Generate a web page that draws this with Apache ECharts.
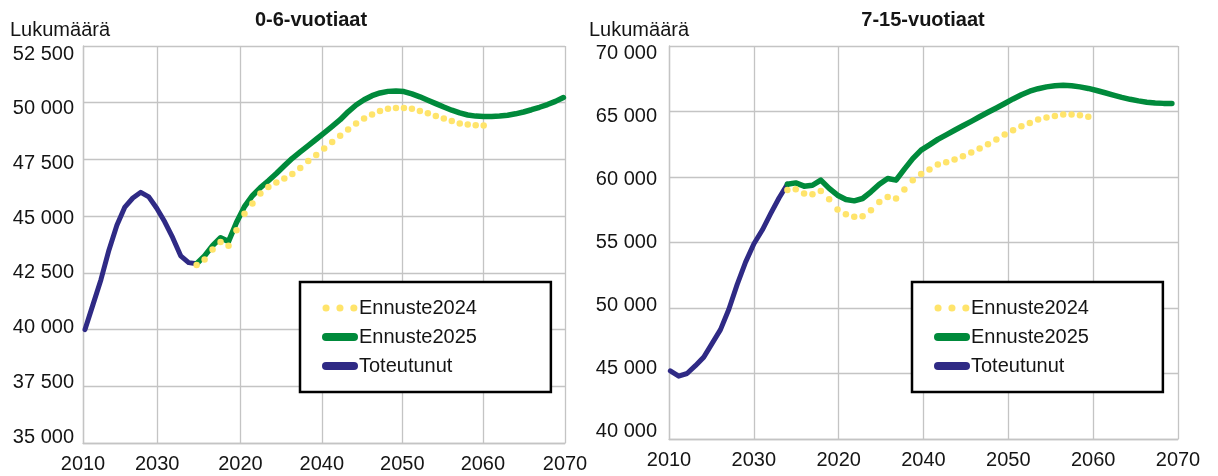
<!DOCTYPE html>
<html>
<head>
<meta charset="utf-8">
<title>Lukumäärä</title>
<script src="https://cdn.jsdelivr.net/npm/echarts@6.0.0/dist/echarts.min.js"></script>
<style>
html, body { margin: 0; padding: 0; background: #fff; }
#main { width: 1218px; height: 476px; }
</style>
</head>
<body>
<div id="main"></div>
<script>
// x-akselin tekstit (kuten alkuperäisessä kuvassa)
const tickLabels = ["2010", "2030", "2020", "2040", "2050", "2060", "2070"];

const yearsActual = [2010, 2011, 2012, 2013, 2014, 2015, 2016, 2017, 2018, 2019, 2020, 2021, 2022, 2023, 2024];
const years2025 = [2024, 2025, 2026, 2027, 2028, 2029, 2030, 2031, 2032, 2033, 2034, 2035, 2036, 2037, 2038, 2039,
  2040, 2041, 2042, 2043, 2044, 2045, 2046, 2047, 2048, 2049, 2050, 2051, 2052, 2053, 2054, 2055,
  2056, 2057, 2058, 2059, 2060, 2061, 2062, 2063, 2064, 2065, 2066, 2067, 2068, 2069, 2070];
const years2024 = [2024, 2025, 2026, 2027, 2028, 2029, 2030, 2031, 2032, 2033, 2034, 2035, 2036, 2037, 2038, 2039,
  2040, 2041, 2042, 2043, 2044, 2045, 2046, 2047, 2048, 2049, 2050, 2051, 2052, 2053, 2054, 2055,
  2056, 2057, 2058, 2059, 2060];

// 0-6-vuotiaat
const actualSmall = [40000, 41100, 42200, 43500, 44600, 45400, 45800, 46050, 45850, 45350, 44750, 44050, 43250, 42950, 42900];
const forecast2025Small = [42900, 43250, 43700, 44050, 43880, 44720, 45420, 45900, 46260, 46560, 46880, 47220, 47550, 47830,
  48110, 48390, 48670, 48960, 49250, 49600, 49900, 50130, 50310, 50430, 50500, 50520, 50490, 50390, 50260,
  50110, 49960, 49810, 49670, 49550, 49460, 49410, 49390, 49390, 49410, 49450, 49510, 49590, 49690, 49800,
  49920, 50060, 50230];
const forecast2024Small = [42850, 43090, 43530, 43860, 43690, 44380, 45110, 45560, 46000, 46290, 46480, 46660, 46860,
  47120, 47430, 47690, 47980, 48270, 48540, 48820, 49080, 49300, 49480, 49630, 49730, 49770, 49770, 49730,
  49640, 49540, 49410, 49300, 49190, 49080, 49040, 49010, 49000];

// 7-15-vuotiaat
const actualSchool = [45200, 44800, 45000, 45600, 46250, 47300, 48350, 49900, 51800, 53500, 54900, 55950, 57200, 58400, 59450];
const forecast2025School = [59450, 59550, 59300, 59370, 59760, 59130, 58610, 58280, 58180, 58360, 58870, 59450, 59880, 59760,
  60600, 61400, 62050, 62450, 62870, 63220, 63570, 63910, 64250, 64600, 64940, 65270, 65610, 65960, 66280,
  66550, 66740, 66880, 66970, 67000, 66970, 66880, 66760, 66600, 66430, 66250, 66080, 65930, 65810, 65710,
  65650, 65620, 65610];
const forecast2024School = [59000, 59070, 58740, 58690, 58940, 58310, 57520, 57160, 56960, 57010, 57470, 58100, 58480,
  58360, 59050, 59760, 60220, 60570, 60960, 61130, 61340, 61590, 61870, 62180, 62500, 62860, 63240, 63570,
  63880, 64130, 64390, 64540, 64660, 64770, 64770, 64720, 64590];

const fontFamily = '"Liberation Sans", Arial, sans-serif';
const gridColor = "#c4c4c4";
const textColor = "#151515";
const yellow = "#ffe46b";
const green = "#008a3b";
const navy = "#2f2a85";

// pystyviivojen paikat (vasen kuva ei ole tasavälinen)
const leftTicks = [2009.75, 2019.05, 2029.5, 2039.7, 2049.8, 2059.9, 2070.2];
const rightTicks = [2009.84, 2019.99, 2030.14, 2040.28, 2050.43, 2060.58, 2070.73];

function pairs(xs, ys) {
  return ys.map((v, i) => [xs[i], v]);
}
function thousands(v) {
  return String(v).replace(/\B(?=(\d{3})+(?!\d))/g, " ");
}
function yearLabel(ticks) {
  return function(v) {
    const i = ticks.findIndex(t => Math.abs(t - v) < 0.01);
    return i >= 0 ? tickLabels[i] : "";
  };
}

const lineStyleGrid = { color: gridColor, width: 1.3 };

function plotX(gridIndex, ticks) {
  return {
    type: "value",
    gridIndex: gridIndex,
    min: ticks[0],
    max: ticks[ticks.length - 1],
    axisLine: { show: true, lineStyle: lineStyleGrid },
    axisTick: { show: false, customValues: ticks },
    axisLabel: {
      customValues: ticks,
      formatter: yearLabel(ticks),
      fontSize: 20,
      fontFamily: fontFamily,
      color: textColor,
      margin: 11
    },
    splitLine: { show: true, lineStyle: lineStyleGrid }
  };
}
function plotY(gridIndex, min, max, interval) {
  return {
    type: "value",
    gridIndex: gridIndex,
    min: min,
    max: max,
    interval: interval,
    axisLine: { show: true, lineStyle: lineStyleGrid },
    axisTick: { show: false },
    axisLabel: { show: false },
    splitLine: { show: true, lineStyle: lineStyleGrid }
  };
}
// erillinen akseli pelkille y-tekstiarvoille
function labelY(gridIndex, min, max, interval, margin) {
  return {
    type: "value",
    gridIndex: gridIndex,
    min: min,
    max: max,
    interval: interval,
    axisLine: { show: false },
    axisTick: { show: false },
    splitLine: { show: false },
    axisLabel: {
      formatter: thousands,
      fontSize: 20,
      fontFamily: fontFamily,
      color: textColor,
      margin: margin
    }
  };
}

const legendItems = [
  {
    name: "Ennuste2024",
    itemStyle: { opacity: 0 },
    lineStyle: { color: yellow, width: 7, type: [0.1, 13.8], cap: "round", opacity: 1 }
  },
  {
    name: "Ennuste2025",
    itemStyle: { opacity: 0 },
    lineStyle: { color: green, width: 8, type: "solid", cap: "round", opacity: 1 }
  },
  {
    name: "Toteutunut",
    itemStyle: { opacity: 0 },
    lineStyle: { color: navy, width: 8, type: "solid", cap: "round", opacity: 1 }
  }
];
function legendAt(left) {
  return {
    orient: "vertical",
    left: left,
    top: 282,
    itemWidth: 28,
    itemHeight: 20,
    itemGap: 9,
    padding: [16, 74, 16, 22],
    borderColor: "#000",
    borderWidth: 2.5,
    backgroundColor: "#fff",
    selectedMode: false,
    textStyle: { fontSize: 20, lineHeight: 20, color: textColor, fontFamily: fontFamily },
    data: legendItems
  };
}

function dotSeries(xi, data) {
  return {
    name: "Ennuste2024",
    type: "line",
    xAxisIndex: xi,
    yAxisIndex: xi,
    data: data,
    symbol: "circle",
    symbolSize: 6.5,
    showSymbol: true,
    itemStyle: { color: yellow },
    lineStyle: { width: 0, opacity: 0, color: yellow },
    emphasis: { disabled: true }
  };
}
function solidSeries(name, xi, data, color, width) {
  return {
    name: name,
    type: "line",
    xAxisIndex: xi,
    yAxisIndex: xi,
    data: data,
    symbol: "none",
    itemStyle: { color: color },
    lineStyle: { width: width, color: color, join: "round", cap: "round" },
    emphasis: { disabled: true }
  };
}

function textEl(text, x, y, bold, align) {
  return {
    type: "text",
    x: x,
    y: y,
    style: {
      text: text,
      fill: textColor,
      font: (bold ? "bold 20px " : "20px ") + fontFamily,
      align: align,
      verticalAlign: "middle"
    }
  };
}

var myChart = echarts.init(document.getElementById("main"), null, { renderer: "canvas" });
myChart.setOption({
  animation: false,
  backgroundColor: "#fff",
  graphic: [
    textEl("0-6-vuotiaat", 311, 20, true, "center"),
    textEl("7-15-vuotiaat", 923, 20, true, "center"),
    textEl("Lukumäärä", 10, 30, false, "left"),
    textEl("Lukumäärä", 589, 30, false, "left")
  ],
  grid: [
    { left: 83, right: 653, top: 46, bottom: 33, outerBoundsMode: "none" },
    { left: 669, right: 40, top: 46, bottom: 37, outerBoundsMode: "none" },
    { left: 83, right: 653, top: 54, bottom: 39, outerBoundsMode: "none" },
    { left: 669, right: 40, top: 53.3, bottom: 44.3, outerBoundsMode: "none" }
  ],
  xAxis: [
    plotX(0, leftTicks),
    plotX(1, rightTicks),
    { type: "value", gridIndex: 2, show: false },
    { type: "value", gridIndex: 3, show: false }
  ],
  yAxis: [
    plotY(0, 35000, 52500, 2500),
    plotY(1, 40000, 70000, 5000),
    labelY(2, 35000, 52500, 2500, 9),
    labelY(3, 40000, 70000, 5000, 12)
  ],
  legend: [legendAt(300), legendAt(912)],
  series: [
    dotSeries(0, pairs(years2024, forecast2024Small)),
    solidSeries("Toteutunut", 0, pairs(yearsActual, actualSmall), navy, 5),
    solidSeries("Ennuste2025", 0, pairs(years2025, forecast2025Small), green, 5.5),
    dotSeries(1, pairs(years2024, forecast2024School)),
    solidSeries("Toteutunut", 1, pairs(yearsActual, actualSchool), navy, 5),
    solidSeries("Ennuste2025", 1, pairs(years2025, forecast2025School), green, 5.5)
  ]
});
</script>
</body>
</html>
